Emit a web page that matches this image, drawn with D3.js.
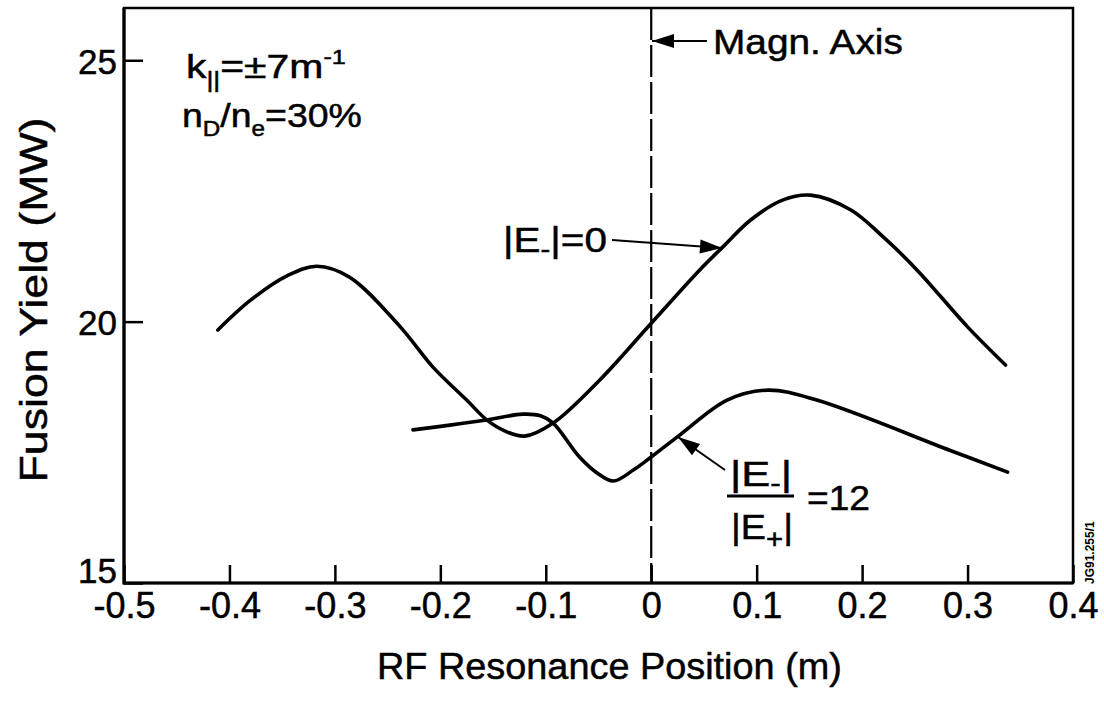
<!DOCTYPE html>
<html>
<head>
<meta charset="utf-8">
<script src="https://cdn.jsdelivr.net/npm/d3@7"></script>
<style>
  html, body { margin: 0; padding: 0; background: #fff; }
  svg { display: block; }
  text { font-family: "Liberation Sans", Arial, Helvetica, sans-serif; fill: #000; }
</style>
</head>
<body>
<svg id="chart" width="1104" height="701"></svg>
<script>
// ---------------- data ----------------
const xTicks = [-0.5, -0.4, -0.3, -0.2, -0.1, 0, 0.1, 0.2, 0.3, 0.4];
const xTickLabels = ["-0.5", "-0.4", "-0.3", "-0.2", "-0.1", "0", "0.1", "0.2", "0.3", "0.4"];
const yTicks = [15, 20, 25];
const yTickLabels = ["15", "20", "25"];

// |E-| = 0 curve
const curveA_x = [-0.411, -0.380, -0.345, -0.317, -0.286, -0.238, -0.207, -0.175, -0.156, -0.139, -0.120, -0.093, -0.049, 0.000, 0.046, 0.068, 0.094, 0.125, 0.151, 0.189, 0.220, 0.252, 0.300, 0.336];
const curveA_y = [19.84, 20.41, 20.88, 21.06, 20.85, 19.90, 19.13, 18.50, 18.12, 17.91, 17.81, 18.06, 18.88, 19.97, 20.99, 21.43, 21.94, 22.33, 22.42, 22.14, 21.62, 20.99, 19.90, 19.17];

// |E-|/|E+| = 12 curve
const curveB_x = [-0.226, -0.191, -0.156, -0.122, -0.105, -0.093, -0.068, -0.051, -0.036, -0.017, 0.000, 0.027, 0.072, 0.111, 0.157, 0.283, 0.338];
const curveB_y = [17.93, 18.02, 18.12, 18.23, 18.20, 18.06, 17.41, 17.10, 16.95, 17.16, 17.41, 17.83, 18.50, 18.69, 18.50, 17.54, 17.12];

const magneticAxis = 0;

// ---------------- layout ----------------
const svg = d3.select("#chart");
svg.append("rect").attr("width", 1104).attr("height", 701).attr("fill", "#fff");

const L = 124, R = 1073, T = 8, B = 583;
const x = d3.scaleLinear().domain([-0.5, 0.4]).range([L, R]);
const y = d3.scaleLinear().domain([15, 26]).range([B, T]);

// helper: text fitted (horizontally) to a target width
function fitText(parent, x0, y0, width, size, build, anchor = "start", rotate = 0) {
  const g = parent.append("g");
  const t = g.append("text").attr("font-size", size).attr("text-anchor", anchor)
    .attr("stroke", "#000").attr("stroke-width", 0.5);
  build(t);
  const w = t.node().getBBox().width;
  const s = width / w;
  g.attr("transform", `translate(${x0},${y0}) rotate(${rotate}) scale(${s},1)`);
  return g;
}

// frame
svg.append("rect")
  .attr("x", L).attr("y", T).attr("width", R - L).attr("height", B - T)
  .attr("fill", "none").attr("stroke", "#000").attr("stroke-width", 2.5);
svg.append("path")
  .attr("d", `M${L},${T}V${B}H${R}`)
  .attr("fill", "none").attr("stroke", "#000").attr("stroke-width", 3.2);

// x axis
const xAxis = d3.axisBottom(x).tickValues(xTicks)
  .tickFormat((d, i) => xTickLabels[i])
  .tickSizeInner(-18).tickSizeOuter(0).tickPadding(9);
const gx = svg.append("g").attr("transform", `translate(0,${B})`).call(xAxis);
gx.select(".domain").remove();
gx.selectAll(".tick line").attr("stroke", "#000").attr("stroke-width", 2.5);
gx.selectAll(".tick text")
  .attr("font-size", 36).attr("font-family", "Liberation Sans, Arial, sans-serif")
  .attr("fill", "#000").attr("stroke", "#000").attr("stroke-width", 0.5);

// y axis
const yAxis = d3.axisLeft(y).tickValues(yTicks)
  .tickFormat((d, i) => yTickLabels[i])
  .tickSizeInner(-19).tickSizeOuter(0).tickPadding(8);
const gy = svg.append("g").attr("transform", `translate(${L},0)`).call(yAxis);
gy.select(".domain").remove();
gy.selectAll(".tick line").attr("stroke", "#000").attr("stroke-width", 2.5);
gy.selectAll(".tick text")
  .attr("font-size", 35).attr("font-family", "Liberation Sans, Arial, sans-serif")
  .attr("fill", "#000").attr("stroke", "#000").attr("stroke-width", 0.5)
  .attr("x", -7)
  .attr("dy", d => d === 15 ? "-0.02em" : "0.38em");

// magnetic axis dashed line
svg.append("line")
  .attr("x1", x(magneticAxis)).attr("x2", x(magneticAxis))
  .attr("y1", T).attr("y2", B)
  .attr("stroke", "#000").attr("stroke-width", 2.2)
  .attr("stroke-dasharray", "32,5");

// curves
const line = d3.line().x(d => x(d[0])).y(d => y(d[1])).curve(d3.curveCatmullRom.alpha(0.5));
const dataA = curveA_x.map((v, i) => [v, curveA_y[i]]);
const dataB = curveB_x.map((v, i) => [v, curveB_y[i]]);
[dataA, dataB].forEach(dd => {
  svg.append("path").datum(dd).attr("d", line)
    .attr("fill", "none").attr("stroke", "#000").attr("stroke-width", 3.6)
    .attr("stroke-linecap", "round").attr("stroke-linejoin", "round");
});

// arrows
function arrow(x1, y1, x2, y2) {
  svg.append("line").attr("x1", x1).attr("y1", y1).attr("x2", x2).attr("y2", y2)
    .attr("stroke", "#000").attr("stroke-width", 2);
  const ang = Math.atan2(y2 - y1, x2 - x1);
  const len = 22, hw = 7;
  const bx = x2 - len * Math.cos(ang), by = y2 - len * Math.sin(ang);
  const px = -Math.sin(ang) * hw, py = Math.cos(ang) * hw;
  svg.append("path")
    .attr("d", `M${x2},${y2}L${bx + px},${by + py}L${bx - px},${by - py}Z`)
    .attr("fill", "#000");
}

// axis titles
fitText(svg, 377, 679, 465, 37, t => t.text("RF Resonance Position (m)"));
fitText(svg, 47, 300, 365, 39, t => t.text("Fusion Yield (MW)"), "middle", -90);

// parameter labels
fitText(svg, 186, 78, 160, 34, t => {
  t.append("tspan").text("k");
  t.append("tspan").attr("font-size", 22).attr("dy", 9).text("||");
  t.append("tspan").attr("dy", -9).text("=±7m");
  t.append("tspan").attr("font-size", 21).attr("dy", -14).text("-1");
});
fitText(svg, 182, 127, 180, 34, t => {
  t.append("tspan").text("n");
  t.append("tspan").attr("font-size", 22).attr("dy", 9).text("D");
  t.append("tspan").attr("dy", -9).text("/n");
  t.append("tspan").attr("font-size", 22).attr("dy", 9).text("e");
  t.append("tspan").attr("dy", -9).text("=30%");
});

// magnetic axis annotation
arrow(707, 41, 652, 41);
fitText(svg, 713, 54, 190, 36, t => t.text("Magn. Axis"));

// |E-|=0 annotation
fitText(svg, 503, 252, 104, 36, t => {
  t.append("tspan").text("|E");
  t.append("tspan").attr("font-size", 26).attr("dy", 6).text("-");
  t.append("tspan").attr("dy", -6).text("|=0");
});
arrow(612, 240, 722, 248);

// ratio annotation
fitText(svg, 730, 486, 62, 36, t => {
  t.append("tspan").text("|E");
  t.append("tspan").attr("font-size", 26).attr("dy", 6).text("-");
  t.append("tspan").attr("dy", -6).text("|");
});
svg.append("line").attr("x1", 727).attr("x2", 794).attr("y1", 496).attr("y2", 496)
  .attr("stroke", "#000").attr("stroke-width", 2.8);
fitText(svg, 731, 539, 62, 36, t => {
  t.append("tspan").text("|E");
  t.append("tspan").attr("font-size", 28).attr("dy", 9).text("+");
  t.append("tspan").attr("dy", -9).text("|");
});
fitText(svg, 807, 510, 63, 36, t => t.text("=12"));
arrow(725, 470, 678, 437);

// figure reference
svg.append("text").attr("transform", "translate(1094,584) rotate(-90)")
  .attr("font-size", 12).attr("font-weight", "bold").text("JG91.255/1");
</script>
</body>
</html>
